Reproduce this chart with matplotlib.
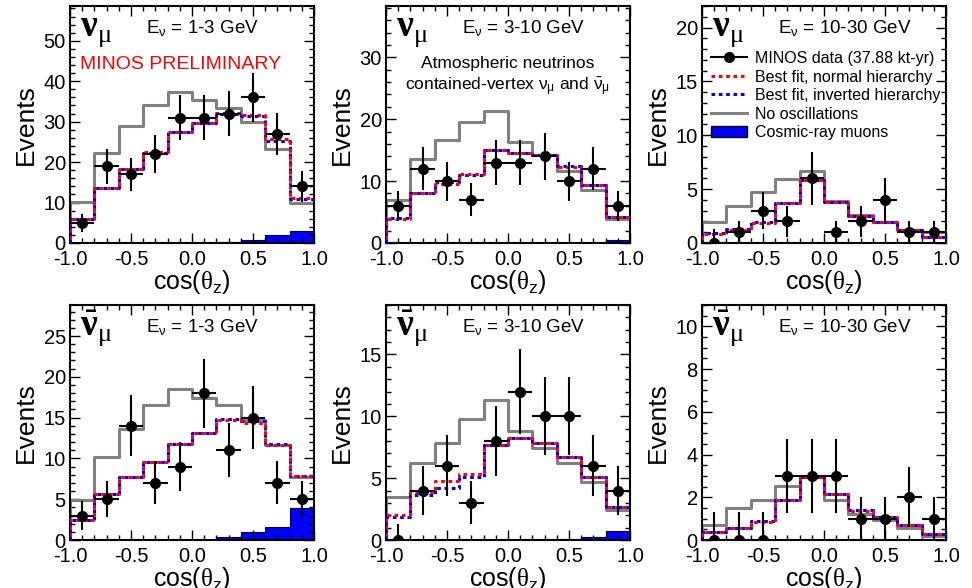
import numpy as np
import matplotlib.pyplot as plt
from matplotlib.ticker import MultipleLocator, AutoMinorLocator
from matplotlib.lines import Line2D
from matplotlib.patches import Patch

plt.rcParams['font.family'] = ['Liberation Sans', 'DejaVu Sans']
plt.rcParams['mathtext.fontset'] = 'custom'
plt.rcParams['mathtext.rm'] = 'Liberation Sans'
plt.rcParams['mathtext.it'] = 'Liberation Sans'
plt.rcParams['mathtext.bf'] = 'Liberation Serif:bold'
plt.rcParams['mathtext.sf'] = 'Liberation Serif'

# cos(theta_z) bins
edges = np.array([-1.0, -0.8, -0.6, -0.4, -0.2, 0.0, 0.2, 0.4, 0.6, 0.8, 1.0])
centers = (edges[:-1] + edges[1:]) / 2
halfw = np.diff(edges) / 2
zero_up = 1.29  # upper error drawn for empty bins

# --- nu_mu, 1-3 GeV
numu1_data = [5, 19, 17, 22, 31, 31, 32, 36, 27, 14]
numu1_noosc = [10.1, 22.3, 29.0, 34.0, 37.4, 35.4, 33.3, 30.0, 23.2, 9.9]
numu1_nh = [6.0, 13.5, 18.3, 22.4, 27.5, 29.7, 32.2, 31.6, 25.6, 11.2]
numu1_ih = [6.0, 13.5, 18.2, 22.2, 27.5, 29.7, 32.0, 31.4, 25.3, 11.0]
numu1_cosmic = [0, 0, 0, 0, 0, 0.05, 0.3, 0.8, 2.1, 2.9]

# --- nu_mu, 3-10 GeV
numu2_data = [6, 12, 10, 7, 13, 13, 14, 10, 12, 6]
numu2_noosc = [6.9, 13.5, 16.7, 19.6, 21.3, 16.3, 14.2, 11.7, 8.6, 3.9]
numu2_nh = [3.9, 8.0, 9.6, 11.1, 15.0, 14.6, 14.2, 12.3, 9.4, 4.2]
numu2_ih = [4.0, 8.1, 9.9, 11.0, 15.0, 14.6, 14.3, 12.4, 9.4, 4.2]
numu2_cosmic = [0, 0, 0, 0, 0, 0, 0, 0, 0.05, 0.45]

# --- nu_mu, 10-30 GeV
numu3_data = [0, 1, 3, 2, 6, 1, 2, 4, 1, 1]
numu3_noosc = [1.95, 3.45, 4.7, 5.9, 6.7, 3.9, 2.6, 1.95, 1.25, 1.0]
numu3_nh = [0.87, 1.2, 1.9, 3.7, 5.85, 3.8, 2.5, 1.95, 1.25, 0.55]
numu3_ih = [0.95, 1.3, 1.95, 3.7, 5.85, 3.8, 2.5, 1.95, 1.25, 0.55]
numu3_cosmic = [0, 0, 0, 0, 0, 0, 0, 0, 0, 0]

# --- nubar_mu, 1-3 GeV
nubar1_data = [3, 5, 14, 7, 9, 18, 11, 15, 7, 5]
nubar1_noosc = [4.85, 10.2, 13.6, 16.6, 18.5, 17.4, 16.5, 14.7, 11.7, 7.7]
nubar1_nh = [2.4, 5.6, 7.7, 9.55, 11.8, 13.1, 14.75, 14.3, 11.7, 7.8]
nubar1_ih = [2.4, 5.6, 7.7, 9.5, 11.8, 13.1, 14.8, 14.55, 11.8, 7.8]
nubar1_cosmic = [0, 0, 0, 0, 0.05, 0.05, 0.4, 0.95, 1.65, 3.95]

# --- nubar_mu, 3-10 GeV
nubar2_data = [0, 4, 6, 3, 8, 12, 10, 10, 6, 4]
nubar2_noosc = [3.5, 6.2, 7.85, 9.8, 11.3, 8.8, 7.4, 6.2, 4.7, 2.45]
nubar2_nh = [2.05, 3.85, 4.75, 5.35, 7.7, 8.25, 7.85, 6.7, 5.1, 2.65]
nubar2_ih = [1.9, 3.6, 4.2, 5.1, 7.65, 8.25, 7.85, 6.7, 5.1, 2.65]
nubar2_cosmic = [0, 0, 0, 0, 0, 0, 0, 0.1, 0.25, 0.75]

# --- nubar_mu, 10-30 GeV
nubar3_data = [0, 0, 0, 3, 3, 3, 1, 1, 2, 1]
nubar3_noosc = [0.72, 1.5, 1.87, 2.55, 2.96, 1.89, 1.22, 0.95, 0.55, 0.2]
nubar3_nh = [0.39, 0.56, 0.86, 1.87, 2.96, 2.15, 1.37, 1.1, 0.72, 0.28]
nubar3_ih = [0.39, 0.56, 0.88, 1.87, 2.96, 2.15, 1.4, 1.1, 0.72, 0.28]
nubar3_cosmic = [0, 0, 0, 0, 0, 0, 0, 0, 0, 0]

energies = ['1-3', '3-10', '10-30']

RED = '#ff0000'
BLUE = '#0000ff'
GRAY = '#808080'


def step_xy(vals):
    x = np.concatenate([[edges[0]], np.repeat(edges, 2)[1:-1]])
    y = np.concatenate([[0], np.repeat(vals, 2)])
    return x, y


def draw_panel(ax, data, noosc, nh, ih, cosmic, ymax, major, nminor, label, erange):
    ax.stairs(cosmic, edges, fill=True, color=BLUE, zorder=1)
    ax.stairs(cosmic, edges, color='#000033', lw=0.8, zorder=1.1)
    x, y = step_xy(noosc)
    ax.plot(x, y, color=GRAY, lw=2.2, zorder=2)
    x, y = step_xy(ih)
    ax.plot(x, y, color=BLUE, lw=2.2, ls=(0, (1.2, 1.2)), zorder=3)
    x, y = step_xy(nh)
    ax.plot(x, y, color=RED, lw=2.2, ls=(1.2, (1.2, 1.2)), zorder=4)

    data = np.array(data, dtype=float)
    lo = np.sqrt(data)
    hi = np.where(data > 0, np.sqrt(data), zero_up)
    ax.errorbar(centers, data, yerr=[lo, hi], xerr=halfw, fmt='o', color='k',
                ms=7, lw=1.5, capsize=0, zorder=5)

    ax.set_xlim(-1, 1)
    ax.set_ylim(0, ymax)
    ax.xaxis.set_major_locator(MultipleLocator(0.5))
    ax.xaxis.set_minor_locator(MultipleLocator(0.1))
    ax.yaxis.set_major_locator(MultipleLocator(major))
    ax.yaxis.set_minor_locator(AutoMinorLocator(nminor))
    ax.xaxis.set_major_formatter(plt.FormatStrFormatter('%.1f'))
    ax.tick_params(which='both', direction='in', top=True, right=True,
                   labelsize=14.5, width=1)
    ax.tick_params(which='major', length=7)
    ax.tick_params(which='minor', length=3.5)
    ax.tick_params(axis='y', pad=3)
    ax.tick_params(axis='x', pad=5)
    for s in ax.spines.values():
        s.set_linewidth(1.5)
    ax.set_xlabel(r'cos($\mathsf{\theta}_{z}$)', fontsize=18, labelpad=-1)
    ax.set_ylabel('Events', fontsize=19, labelpad=4)

    ax.text(0.04, 0.875, label, transform=ax.transAxes, fontsize=27, zorder=6)
    ax.text(0.31, 0.885, r'E$_{\nu}$ = ' + erange + ' GeV', transform=ax.transAxes,
            fontsize=13.5, zorder=6)


fig = plt.figure(figsize=(9.72, 5.88), dpi=100)
W, H = 972.0, 588.0
col_left = [70, 386, 702]
row_top = [6, 305]
row_h = [237, 235]
axw = 244

panels = [
    (numu1_data, numu1_noosc, numu1_nh, numu1_ih, numu1_cosmic, 58.6, 10, 5),
    (numu2_data, numu2_noosc, numu2_nh, numu2_ih, numu2_cosmic, 38.3, 10, 5),
    (numu3_data, numu3_noosc, numu3_nh, numu3_ih, numu3_cosmic, 22.0, 5, 5),
    (nubar1_data, nubar1_noosc, nubar1_nh, nubar1_ih, nubar1_cosmic, 28.8, 5, 5),
    (nubar2_data, nubar2_noosc, nubar2_nh, nubar2_ih, nubar2_cosmic, 19.0, 5, 5),
    (nubar3_data, nubar3_noosc, nubar3_nh, nubar3_ih, nubar3_cosmic, 11.0, 2, 4),
]
labels = [r'$\mathbf{\nu}_{\mathsf{\mu}}$', r'$\bar{\mathbf{\nu}}_{\mathsf{\mu}}$']

axes = []
for i, p in enumerate(panels):
    r, c = divmod(i, 3)
    rect = [col_left[c] / W, 1 - (row_top[r] + row_h[r]) / H, axw / W, row_h[r] / H]
    ax = fig.add_axes(rect)
    draw_panel(ax, *p, labels[r], energies[c])
    axes.append(ax)

axes[0].text(0.04, 0.735, 'MINOS PRELIMINARY', color=RED, fontsize=14,
             transform=axes[0].transAxes)
axes[1].text(0.5, 0.645, 'Atmospheric neutrinos\n'
             r'contained-vertex $\nu_{\mu}$ and $\bar{\nu}_{\mu}$',
             transform=axes[1].transAxes, ha='center', va='baseline',
             fontsize=12.5, linespacing=1.25)

handles = [
    Line2D([], [], color='k', marker='o', ms=7, lw=1.5),
    Line2D([], [], color=RED, lw=2.2, ls=(0, (1.2, 1.2))),
    Line2D([], [], color=BLUE, lw=2.2, ls=(0, (1.2, 1.2))),
    Line2D([], [], color=GRAY, lw=2.2),
    Patch(facecolor=BLUE, edgecolor='k', lw=1),
]
names = ['MINOS data (37.88 kt-yr)', 'Best fit, normal hierarchy',
         'Best fit, inverted hierarchy', 'No oscillations', 'Cosmic-ray muons']
axes[2].legend(handles, names, loc='upper left', bbox_to_anchor=(0.035, 0.81),
               frameon=False, fontsize=11.5, handlelength=2.3, handletextpad=0.5,
               labelspacing=0.22, borderaxespad=0, borderpad=0)

fig.savefig('out.png', dpi=100)
